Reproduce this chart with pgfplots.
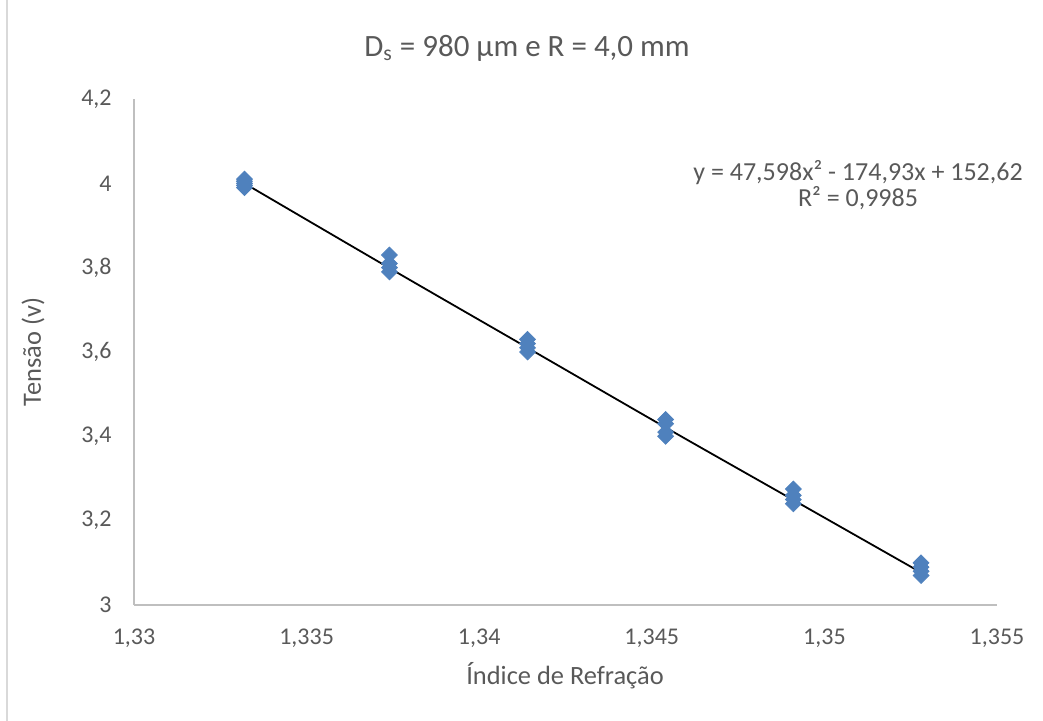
\documentclass[border=0pt]{standalone}
\usepackage{fontspec}
\setmainfont{Carlito}
\usepackage{pgfplots}
\pgfplotsset{compat=1.18}
\definecolor{txt}{HTML}{595959}
\definecolor{axl}{HTML}{BFBFBF}
\definecolor{mk}{HTML}{4F81BD}
\definecolor{brd}{HTML}{D9D9D9}
\begin{document}
\begin{tikzpicture}
\path[use as bounding box] (-67pt,-57.5pt) rectangle (454.5pt,302.5pt);
\draw[brd, line width=0.6pt] (-63.5pt,-60pt) -- (-63.5pt,305pt);
\begin{axis}[
  at={(0pt,0pt)}, anchor=south west,
  scale only axis, width=431.5pt, height=253pt,
  xmin=1.33, xmax=1.355, ymin=3, ymax=4.2,
  axis x line*=bottom, axis y line*=left,
  axis line style={axl, line width=0.6pt},
  major tick length=0pt,
  xtick={1.33,1.335,1.34,1.345,1.35,1.355},
  xticklabels={{1,33},{1,335},{1,34},{1,345},{1,35},{1,355}},
  ytick={3,3.2,3.4,3.6,3.8,4,4.2},
  yticklabels={3,{3,2},{3,4},{3,6},{3,8},4,{4,2}},
  yticklabel style={anchor=east, inner sep=0pt, xshift=-11pt, text=txt, font=\fontsize{12}{14}\selectfont},
  xticklabel style={anchor=north, inner sep=0pt, yshift=-12pt, text=txt, font=\fontsize{12}{14}\selectfont},
  clip=false,
]
\addplot[only marks, mark=square*, mark size=2.8pt, mark options={rotate=45, fill=mk, draw=mk}] coordinates {
 (1.3332,4.000) (1.3332,4.010) (1.3332,3.990) (1.3332,4.005) (1.3332,3.995)
 (1.3374,3.830) (1.3374,3.810) (1.3374,3.800) (1.3374,3.790)
 (1.3414,3.630) (1.3414,3.620) (1.3414,3.610) (1.3414,3.600)
 (1.3454,3.440) (1.3454,3.430) (1.3454,3.410) (1.3454,3.400)
 (1.3491,3.275) (1.3491,3.260) (1.3491,3.250) (1.3491,3.240)
 (1.3528,3.100) (1.3528,3.090) (1.3528,3.080) (1.3528,3.070)
};
\addplot[black, line width=0.9pt, smooth, no marks] coordinates {
 (1.3332,4.000) (1.3374,3.799) (1.3414,3.610) (1.3454,3.421) (1.3491,3.249) (1.3528,3.077)
};
\end{axis}
\node[text=txt, font=\fontsize{15.5}{19}\selectfont, inner sep=0pt] at (196.5pt,278.5pt) {D\textsubscript{s} = 980 µm e R = 4,0 mm};
\node[text=txt, font=\fontsize{13.2}{15}\selectfont, rotate=90, inner sep=0pt] at (-50.5pt,126.5pt) {Tensão (v)};
\node[text=txt, font=\fontsize{13.2}{15}\selectfont, inner sep=0pt] at (215.5pt,-35.5pt) {Índice de Refração};
\node[text=txt, font=\fontsize{13}{13}\selectfont, inner sep=0pt, align=center] at (362pt,210pt) {y = 47,598x² - 174,93x + 152,62\\ R² = 0,9985};
\end{tikzpicture}
\end{document}
